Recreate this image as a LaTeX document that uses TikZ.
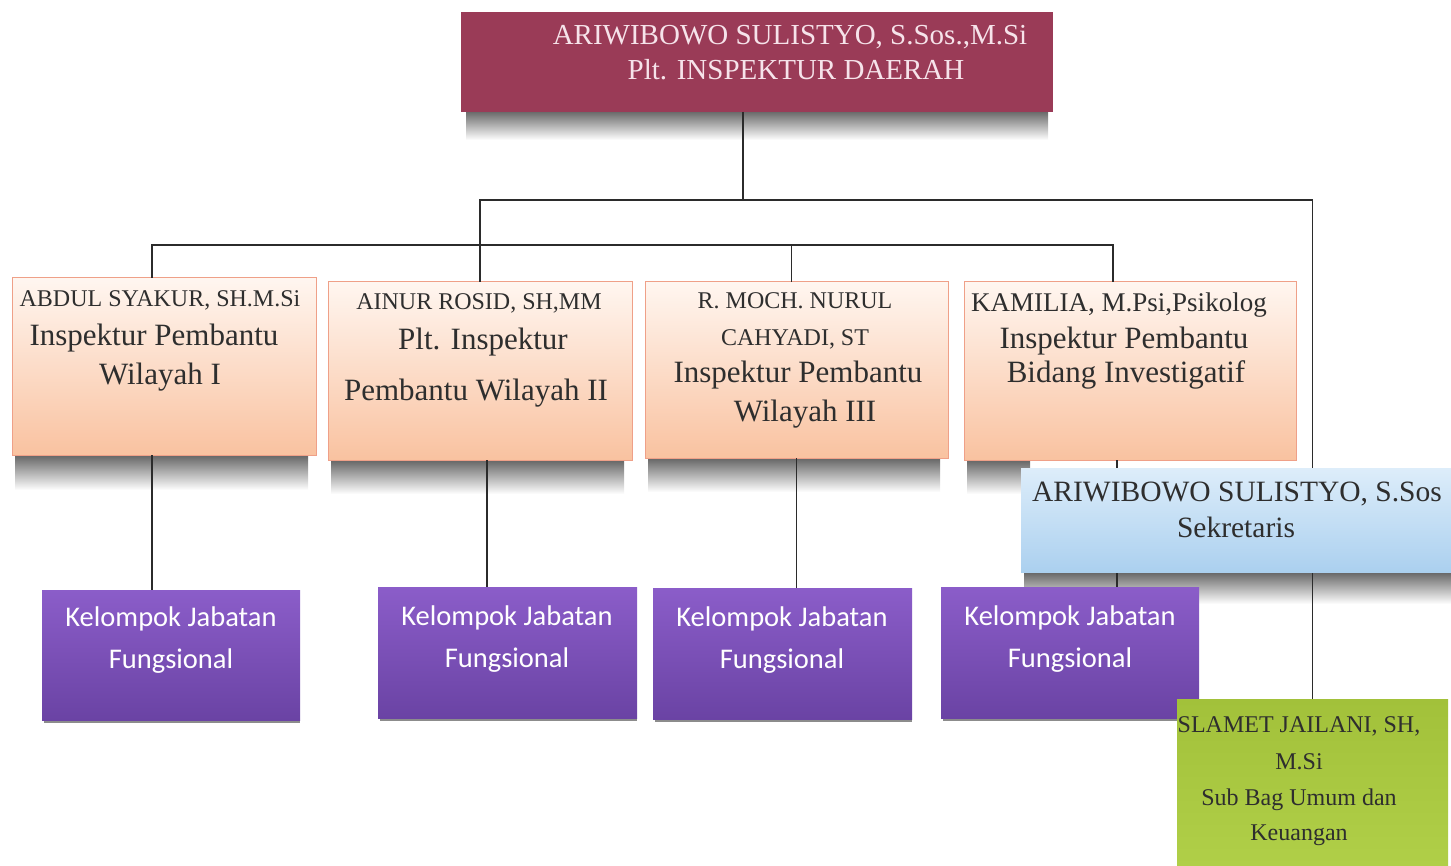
\documentclass[tikz,border=0pt]{standalone}
\usepackage{fontspec}
\setmainfont{Liberation Serif}
\newfontfamily\carlito{Carlito}
\definecolor{topred}{HTML}{9A3B57}
\definecolor{toptxt}{HTML}{F6E3EA}
\definecolor{peachtop}{HTML}{FFF6F0}
\definecolor{peachbot}{HTML}{F9C2A0}
\definecolor{peachedge}{HTML}{EFA088}
\definecolor{purtop}{HTML}{8B5DC9}
\definecolor{purbot}{HTML}{6A43A4}
\definecolor{bluetop}{HTML}{DDEDFA}
\definecolor{bluebot}{HTML}{ABD0EF}
\definecolor{greentop}{HTML}{A2C13A}
\definecolor{greenbot}{HTML}{B0CF48}
\definecolor{txt}{HTML}{2E2E2E}
\definecolor{lineclr}{HTML}{2B2B2B}
\tikzset{
  box/.style={anchor=north west, inner sep=0pt, outer sep=0pt},
  redbox/.style={box, fill=topred},
  peach/.style={box, top color=peachtop, bottom color=peachbot, draw=peachedge, line width=1pt},
  purple/.style={box, top color=purtop, bottom color=purbot},
  bluebox/.style={box, top color=bluetop, bottom color=bluebot},
  greenbox/.style={box, top color=greentop, bottom color=greenbot},
  conn/.style={draw=lineclr, line width=1.6pt},
  shadowband/.style={top color=black!62, middle color=black!30, bottom color=white, draw=none},
  basetext/.style={anchor=mid, inner sep=0pt, yshift=-5pt},
  nm/.style={basetext, text=txt, font=\fontsize{24}{28}\selectfont},
  role/.style={basetext, text=txt, font=\fontsize{31}{36}\selectfont},
  toptext/.style={basetext, text=toptxt, font=\fontsize{29}{34}\selectfont},
  bluetext/.style={basetext, text=txt, font=\fontsize{29.5}{34}\selectfont},
  purtext/.style={basetext, text=white, font=\carlito\fontsize{28.5}{34}\selectfont},
  greentext/.style={basetext, text=txt, font=\fontsize{24}{30}\selectfont},
}
\begin{document}
\begin{tikzpicture}[x=1pt,y=-1pt]
\useasboundingbox (0,0) rectangle (1451,866);
% shadows
\shade[shadowband] (466,110) rectangle (1048,140);
\shade[shadowband] (15,454) rectangle (308,490);
\shade[shadowband] (331,459) rectangle (624,494);
\shade[shadowband] (648,457) rectangle (940,492);
\shade[shadowband] (967,459) rectangle (1030,494);
\shade[shadowband] (1024,571) rectangle (1451,604);
\fill[black!45] (44,718) rectangle (300,723);
\fill[black!45] (380,716) rectangle (637,721);
\fill[black!45] (655,717) rectangle (912,722);
\fill[black!45] (943,716) rectangle (1199,721);
% boxes
\node[redbox, minimum width=592pt, minimum height=100pt] (top) at (461,12) {};
\node[peach, minimum width=304pt, minimum height=177pt] (abdul) at (12,278) {};
\node[peach, minimum width=304pt, minimum height=178pt] (ainur) at (328,282) {};
\node[peach, minimum width=303pt, minimum height=176pt] (moch) at (645,282) {};
\node[peach, minimum width=332pt, minimum height=178pt] (kamilia) at (964,282) {};
\node[purple, minimum width=258pt, minimum height=130pt] (p1) at (42,590) {};
\node[purple, minimum width=259pt, minimum height=131pt] (p2) at (378,587) {};
\node[purple, minimum width=259pt, minimum height=131pt] (p3) at (653,588) {};
\node[purple, minimum width=258pt, minimum height=131pt] (p4) at (941,587) {};
\node[greenbox, minimum width=271pt, minimum height=167pt] (green) at (1177,699) {};
% bus coordinates
\coordinate (busA) at (0,200);
\coordinate (busB) at (0,245);
% connectors
\draw[conn] ([xshift=-14pt]top.south) -- ([xshift=-14pt]top.south |- busA);
\draw[conn] (ainur.north) -- (ainur.north |- busA) -- (busA -| green.north) -- (green.north);
\draw[conn] ([xshift=-12pt]abdul.north) -- ([xshift=-12pt]abdul.north |- busB)
  -- ([xshift=-17pt]busB -| kamilia.north) -- ([xshift=-17pt]kamilia.north);
\draw[conn] ([xshift=-5pt]moch.north) -- ([xshift=-5pt]moch.north |- busB);
\draw[conn] ([xshift=-12pt]abdul.south) -- ([xshift=-12pt]abdul.south |- p1.north);
\draw[conn] ([xshift=7pt]ainur.south) -- ([xshift=7pt]ainur.south |- p2.north);
\draw[conn] (moch.south) -- (moch.south |- p3.north);
\draw[conn] ([xshift=-13pt]kamilia.south) -- ([xshift=-13pt]kamilia.south |- p4.north);
% secretary box over the lines
\node[bluebox, minimum width=430pt, minimum height=104pt] (sek) at (1021,468) {};
% texts
\node[toptext] (topa) at (790,37) {ARIWIBOWO SULISTYO, S.Sos.,M.Si};
\node[toptext] (topb) at (796,72) {Plt. INSPEKTUR DAERAH};
\node[nm] (abdula) at (160,299) {ABDUL SYAKUR, SH.M.Si};
\node[role] (abdulb) at (154,338) {Inspektur Pembantu};
\node[role] (abdulc) at (160,377) {Wilayah I};
\node[nm] (ainura) at (479,302) {AINUR ROSID, SH,MM};
\node[role] (ainurb) at (483,342) {Plt. Inspektur};
\node[role] (ainurc) at (476,393) {Pembantu Wilayah II};
\node[nm] (mocha) at (795,301) {R. MOCH. NURUL};
\node[nm] (mochb) at (795,338) {CAHYADI, ST};
\node[role] (mochc) at (798,375) {Inspektur Pembantu};
\node[role] (mochd) at (805,414) {Wilayah III};
\node[role, font=\fontsize{27}{32}\selectfont] (kama) at (1119,304) {KAMILIA, M.Psi,Psikolog};
\node[role] (kamb) at (1124,341) {Inspektur Pembantu};
\node[role] (kamc) at (1126,375) {Bidang Investigatif};
\node[bluetext] (seka) at (1237,494) {ARIWIBOWO SULISTYO, S.Sos};
\node[bluetext] (sekb) at (1236,530) {Sekretaris};
\node[purtext] (p1a) at (171,619) {Kelompok Jabatan};
\node[purtext] (p1b) at (171,661) {Fungsional};
\node[purtext] (p2a) at (507,618) {Kelompok Jabatan};
\node[purtext] (p2b) at (507,660) {Fungsional};
\node[purtext] (p3a) at (782,619) {Kelompok Jabatan};
\node[purtext] (p3b) at (782,661) {Fungsional};
\node[purtext] (p4a) at (1070,618) {Kelompok Jabatan};
\node[purtext] (p4b) at (1070,660) {Fungsional};
\node[greentext] (ga) at (1299,725) {SLAMET JAILANI, SH,};
\node[greentext] (gb) at (1299,762) {M.Si};
\node[greentext] (gc) at (1299,798) {Sub Bag Umum dan};
\node[greentext] (gd) at (1299,833) {Keuangan};
\end{tikzpicture}
\end{document}
